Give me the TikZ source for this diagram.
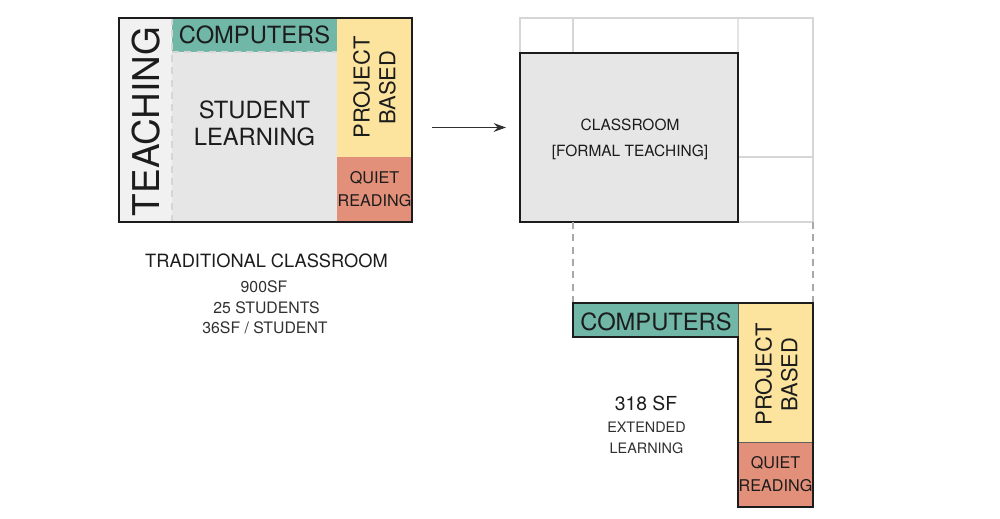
\documentclass[tikz,border=0pt]{standalone}
\usepackage{fontspec}
\setmainfont{TeX Gyre Heros}
\usepackage{xcolor}
\usetikzlibrary{arrows.meta}
\definecolor{ink}{HTML}{1C1C1C}
\definecolor{soft-ink}{HTML}{303030}
\definecolor{teal-zone}{HTML}{70B7A8}
\definecolor{gold-zone}{HTML}{FCE49E}
\definecolor{coral-zone}{HTML}{E2907A}
\definecolor{floor-grey}{HTML}{E6E6E6}
\definecolor{teach-grey}{HTML}{F1F1F1}
\definecolor{grid-grey}{HTML}{D6D6D6}
\definecolor{dash-grey}{HTML}{A8A8A8}

\tikzset{
  zone/.style={inner sep=0pt, outer sep=0pt, align=center, text=ink},
  walls/.style={draw=ink, line width=1pt},
  gridline/.style={draw=grid-grey, line width=0.6pt},
  guide/.style={draw=dash-grey, line width=0.6pt, dash pattern=on 4pt off 3pt},
  bigtxt/.style={font=\fontsize{13.5}{15.3}\selectfont, text=ink, align=center},
  smalltxt/.style={font=\fontsize{9.2}{13}\selectfont, text=ink, align=center},
  captxt/.style={font=\fontsize{9}{11}\selectfont, text=soft-ink, align=center}
}

\begin{document}
\begin{tikzpicture}
    % Left: traditional classroom plan, right: classroom + extended learning.
    % Coordinates: (x, y) in cm, 50px = 1cm, y downwards negative
    %   left plan  x 2.38..8.24,   y -0.36..-4.44
    %   right plan x 10.40..16.26, y -0.36..-4.44
    %   L block    x 11.46..16.26, y -6.06..-10.14
    \useasboundingbox (0,0) rectangle (20,-10.36);

    % --- traditional classroom ---
    \node[zone, fill=teach-grey, minimum width=1.06cm, minimum height=4.08cm]
      (teach) at (2.91,-2.40) {};
    \node[zone, fill=teal-zone, minimum width=3.30cm, minimum height=0.68cm]
      (comp) at (5.09,-0.70) {};
    \node[zone, fill=floor-grey, minimum width=3.30cm, minimum height=3.40cm]
      (learn) at (5.09,-2.74) {};
    \node[zone, fill=gold-zone, minimum width=1.50cm, minimum height=2.78cm]
      (proj) at (7.49,-1.75) {};
    \node[zone, fill=coral-zone, minimum width=1.50cm, minimum height=1.30cm]
      (quiet) at (7.49,-3.79) {};
    \draw[guide, draw=grid-grey] (teach.north east) -- (teach.south east);
    \draw[guide, draw=grid-grey] (comp.south west) -- (comp.south east);
    \draw[walls] (teach.north west) rectangle (quiet.south east);

    \node[rotate=90, font=\fontsize{21}{22}\selectfont, text=ink]
      (teachtxt) at (2.93,-2.43) {TEACHING};
    \node[bigtxt] (comptxt) at (comp) {COMPUTERS};
    \node[bigtxt] (learntxt) at (5.09,-2.47) {STUDENT\\LEARNING};
    \node[bigtxt, rotate=90, font=\fontsize{12.5}{14.7}\selectfont]
      (projtxt) at (proj) {PROJECT\\BASED};
    \node[smalltxt] (quiettxt) at (quiet) {QUIET\\READING};

    \node[font=\fontsize{10.4}{12}\selectfont, text=ink]
      (tradtxt) at (5.33,-5.22) {TRADITIONAL CLASSROOM};
    \node[captxt] (areatxt) at (5.28,-5.74) {900SF};
    \node[captxt] (seattxt) at (5.33,-6.16) {25 STUDENTS};
    \node[captxt] (ratetxt) at (5.30,-6.56) {36SF / STUDENT};

    % --- arrow between plans ---
    \coordinate (arrfrom) at (8.64,-2.55);
    \coordinate (arrto) at (10.12,-2.55);
    \draw[-{Stealth[length=7pt, width=5pt]}, draw=soft-ink, line width=0.9pt]
      (arrfrom) -- (arrto);

    % --- new classroom ---
    \coordinate (gridnw) at (10.40,-0.36);
    \coordinate (gridse) at (16.26,-4.44);
    \draw[gridline] (gridnw) rectangle (gridse);
    \node[zone, fill=floor-grey, minimum width=4.36cm, minimum height=3.38cm]
      (room) at (12.58,-2.75) {};
    \draw[gridline] (11.46,-0.36) -- (11.46,-1.06);
    \draw[gridline] (room.north east) -- (14.76,-0.36);
    \draw[gridline] (14.76,-3.14) -- (16.26,-3.14);
    \draw[walls] (room.north west) rectangle (room.south east);
    \node[font=\fontsize{8.8}{14.7}\selectfont, text=ink, align=center]
      (roomtxt) at (12.60,-2.78) {CLASSROOM\\{}[FORMAL TEACHING]};

    % --- extended learning L block ---
    \node[zone, fill=teal-zone, minimum width=3.30cm, minimum height=0.68cm]
      (compB) at (13.11,-6.40) {};
    \node[zone, fill=gold-zone, minimum width=1.50cm, minimum height=2.78cm]
      (projB) at (15.51,-7.45) {};
    \node[zone, fill=coral-zone, minimum width=1.50cm, minimum height=1.30cm]
      (quietB) at (15.51,-9.49) {};
    \draw[guide] (compB.north west) -- (compB.north west |- room.south);
    \draw[guide] (projB.north east) -- (projB.north east |- room.south);
    \draw[draw=ink!70, line width=0.5pt] (compB.north east) -- (compB.south east);
    \draw[draw=ink!70, line width=0.5pt] (quietB.north west) -- (quietB.north east);
    \draw[walls] (compB.north west) -- (projB.north east) -- (quietB.south east)
      -- (quietB.south west) -- (compB.south east) -- (compB.south west) -- cycle;

    \node[bigtxt] (compBtxt) at (13.12,-6.44) {COMPUTERS};
    \node[bigtxt, rotate=90, font=\fontsize{12.5}{14.7}\selectfont]
      (projBtxt) at (15.53,-7.49) {PROJECT\\BASED};
    \node[smalltxt] (quietBtxt) at (quietB) {QUIET\\READING};

    \node[font=\fontsize{11}{12}\selectfont, text=ink] (sftxt) at (12.92,-8.06) {318 SF};
    \node[font=\fontsize{8.2}{12}\selectfont, text=soft-ink, align=center]
      (exttxt) at (12.93,-8.75) {EXTENDED\\LEARNING};
  \end{tikzpicture}
\end{document}
